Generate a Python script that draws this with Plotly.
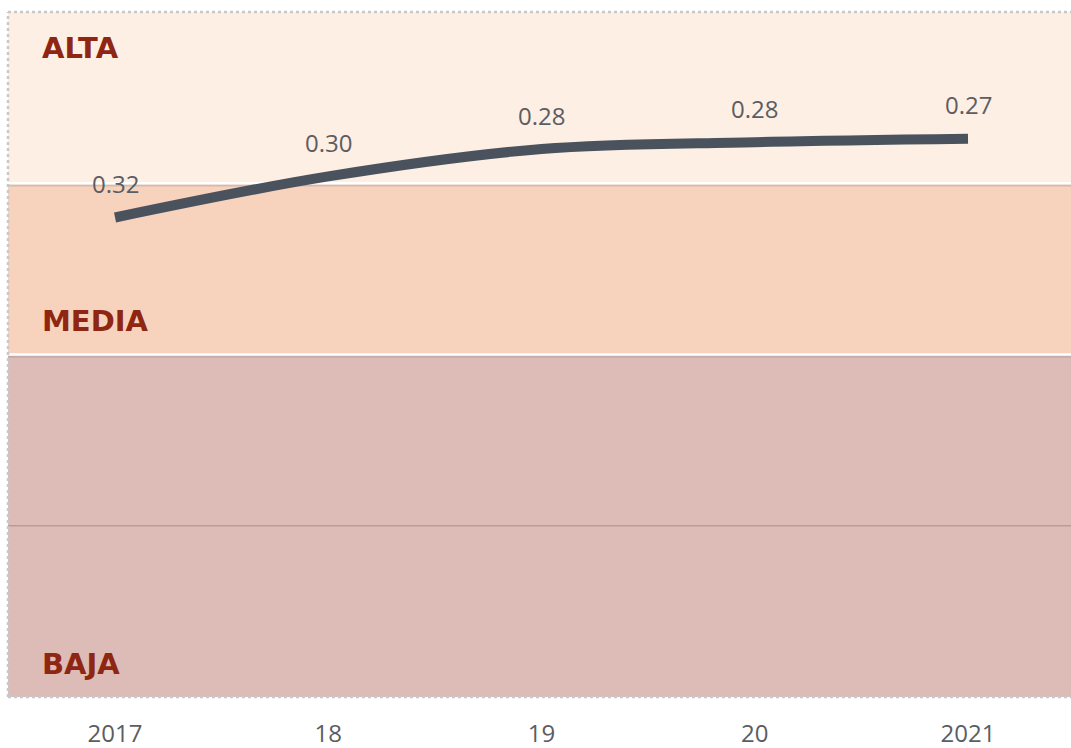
import plotly.graph_objects as go

# datos
years = [2017, 2018, 2019, 2020, 2021]
tick_text = ["2017", "18", "19", "20", "2021"]
values = [0.320, 0.296, 0.280, 0.276, 0.274]
value_labels = ["0.32", "0.30", "0.28", "0.28", "0.27"]

band_names = ["ALTA", "MEDIA", "BAJA"]
band_from = [0.2, 0.3, 0.4]
band_to = [0.3, 0.4, 0.6]
band_colors = ["#fdefe4", "#f7d3bd", "#ddbcb8"]
separators = [0.3, 0.4]
grid_lines = [0.5]

label_red = "#8f2612"
txt_grey = "#5a5d63"
font_main = "Open Sans"
font_bold = "DejaVu Sans"

fig = go.Figure()

fig.add_trace(go.Scatter(
    x=years, y=values, mode="lines",
    line=dict(color="#4a525e", width=10, shape="spline", smoothing=1.0),
    hoverinfo="skip", showlegend=False,
))

shapes = []
for y0, y1, col in zip(band_from, band_to, band_colors):
    shapes.append(dict(type="rect", xref="paper", yref="y", x0=0, x1=1, y0=y0, y1=y1,
                       fillcolor=col, line=dict(width=0), layer="below"))
for g in grid_lines:
    shapes.append(dict(type="line", xref="paper", yref="y", x0=0, x1=1, y0=g, y1=g,
                       line=dict(color="rgba(160,110,105,0.45)", width=1.5), layer="below"))
for s in separators:
    shapes.append(dict(type="line", xref="paper", yref="y", x0=0, x1=1, y0=s + 0.0013, y1=s + 0.0013,
                       line=dict(color="rgba(150,140,140,0.35)", width=2), layer="below"))
    shapes.append(dict(type="line", xref="paper", yref="y", x0=0, x1=1, y0=s, y1=s,
                       line=dict(color="white", width=2.5), layer="below"))

# borde punteado
border = dict(color="#c8c8c8", width=2.5, dash="dot")
shapes.append(dict(type="line", xref="paper", yref="paper", x0=0, x1=1, y0=1, y1=1, line=border))
shapes.append(dict(type="line", xref="paper", yref="paper", x0=0, x1=1, y0=0, y1=0, line=border))
shapes.append(dict(type="line", xref="paper", yref="paper", x0=0, x1=0, y0=0, y1=1, line=border))

annotations = []
for x, y, t in zip(years, values, value_labels):
    annotations.append(dict(x=x, y=y, text=t, showarrow=False, yshift=34,
                            font=dict(family=font_main, size=24, color=txt_grey)))

# etiquetas de banda
lab_font = dict(family=font_bold, size=29, color=label_red)
annotations.append(dict(x=0, xref="paper", xshift=32, xanchor="left", y=band_from[0], yanchor="middle",
                        yshift=-36, text="<b>" + band_names[0] + "</b>", showarrow=False, font=lab_font))
annotations.append(dict(x=0, xref="paper", xshift=32, xanchor="left", y=band_to[1], yanchor="middle",
                        yshift=34, text="<b>" + band_names[1] + "</b>", showarrow=False, font=lab_font))
annotations.append(dict(x=0, xref="paper", xshift=32, xanchor="left", y=band_to[2], yanchor="middle",
                        yshift=33, text="<b>" + band_names[2] + "</b>", showarrow=False, font=lab_font))

fig.update_layout(
    width=1071, height=748,
    margin=dict(l=8, r=0, t=12, b=51),
    paper_bgcolor="white", plot_bgcolor="white",
    shapes=shapes, annotations=annotations,
    hovermode=False,
    xaxis=dict(range=[2016.498, 2021.483], tickvals=years, ticktext=tick_text,
               showgrid=False, zeroline=False, showline=False,
               ticks="outside", ticklen=15, tickcolor="rgba(0,0,0,0)",
               tickfont=dict(family=font_main, size=24, color=txt_grey)),
    yaxis=dict(range=[0.6, 0.2], showgrid=False, zeroline=False, showticklabels=False,
               showline=False),
)

# sin margen del body para que la figura ocupe toda la ventana
fig.write_html("out.html", config={"displayModeBar": False},
               post_script="document.body.style.margin='0';document.body.style.overflow='hidden';")
